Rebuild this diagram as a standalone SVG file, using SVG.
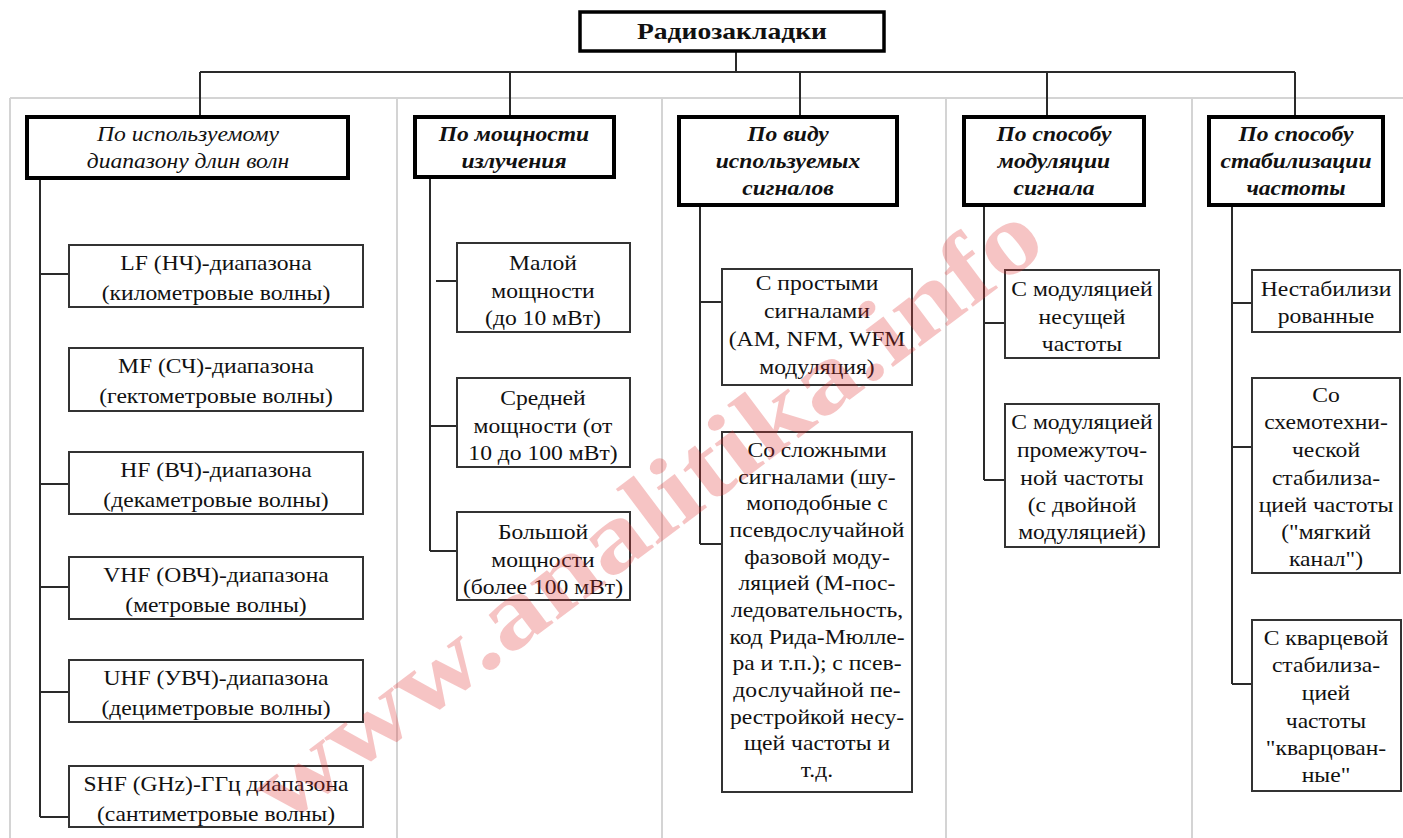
<svg xmlns="http://www.w3.org/2000/svg" width="1403" height="838" viewBox="0 0 1403 838">
<style>
.grid{stroke:#d4d4d4;stroke-width:2;fill:none}
.con{stroke:#2a2a2a;stroke-width:2;fill:none}
.hdr{fill:#fff;stroke:#000;stroke-width:4}
.root{fill:#fff;stroke:#000;stroke-width:3.5}
.box{fill:#fff;stroke:#333;stroke-width:2}
.t{font-size:20px}
.h{font-size:20px;font-style:italic;font-weight:bold}
.hi{font-size:20px;font-style:italic}
.r{font-size:23px;font-weight:bold}
.wm{font-size:100px;font-weight:bold;fill:#e03030;opacity:0.28}
</style>
<rect width="1403" height="838" fill="#fff"/>
<g id="grid">
<path class="grid" d="M10,98 H1403 M10,98 V838 M397,98 V838 M662,98 V838 M946,98 V838 M1192,98 V838"/>
</g>
<g id="connectors">
<path class="con" d="M736,51 V72 M200,72 H1295 M200,72 V117 M510,72 V117 M800,72 V117 M1047,72 V117 M1295,72 V117"/>
<path class="con" d="M40,178 V817 M40,274 H69 M40,484 H69 M40,587 H69 M40,692 H69 M40,817 H69"/>
<path class="con" d="M430,177 V551 M436,281 H457 M430,426 H457 M430,551 H457"/>
<path class="con" d="M700,205 V544 M700,302 H722 M700,544 H722"/>
<path class="con" d="M984,205 V480 M984,323 H1005 M984,480 H1005"/>
<path class="con" d="M1232,205 V684 M1232,303 H1252 M1232,447 H1252 M1232,684 H1252"/>
</g>
<g font-family="'Liberation Serif', 'Times New Roman', Times, 'DejaVu Serif', serif" fill="#111" text-anchor="middle">
<g id="root">
<rect class="root" x="580" y="12" width="304" height="39"/>
<g transform="matrix(1.2 0 0 1 -146.4 0)"><text class="r" x="732" y="39">Радиозакладки</text></g>
</g>
<g id="h1">
<rect class="hdr" x="27" y="117" width="321" height="61"/>
<g transform="matrix(1.18 0 0 1 -33.84 0)">
<text class="hi" x="188" y="141">По используемому</text>
<text class="hi" x="188" y="168">диапазону  длин волн</text>
</g>
</g>
<g id="h2">
<rect class="hdr" x="415" y="117" width="199" height="60"/>
<g transform="matrix(1.18 0 0 1 -92.52 0)">
<text class="h" x="514" y="141">По мощности</text>
<text class="h" x="514" y="168">излучения</text>
</g>
</g>
<g id="h3">
<rect class="hdr" x="679" y="117" width="218" height="88"/>
<g transform="matrix(1.18 0 0 1 -141.84 0)">
<text class="h" x="788" y="141">По виду</text>
<text class="h" x="788" y="168">используемых</text>
<text class="h" x="788" y="195">сигналов</text>
</g>
</g>
<g id="h4">
<rect class="hdr" x="964" y="117" width="180" height="88"/>
<g transform="matrix(1.18 0 0 1 -189.72 0)">
<text class="h" x="1054" y="141">По способу</text>
<text class="h" x="1054" y="168">модуляции</text>
<text class="h" x="1054" y="195">сигнала</text>
</g>
</g>
<g id="h5">
<rect class="hdr" x="1209" y="117" width="174" height="88"/>
<g transform="matrix(1.18 0 0 1 -233.28 0)">
<text class="h" x="1296" y="141">По способу</text>
<text class="h" x="1296" y="168">стабилизации</text>
<text class="h" x="1296" y="195">частоты</text>
</g>
</g>
<g id="lf">
<rect class="box" x="69" y="245" width="294" height="62"/>
<g transform="matrix(1.18 0 0 1 -38.88 0)">
<text class="t" x="216" y="270">LF (НЧ)-диапазона</text>
<text class="t" x="216" y="300">(километровые волны)</text>
</g>
</g>
<g id="mf">
<rect class="box" x="69" y="348" width="294" height="63"/>
<g transform="matrix(1.18 0 0 1 -38.88 0)">
<text class="t" x="216" y="373">MF (СЧ)-диапазона</text>
<text class="t" x="216" y="403">(гектометровые волны)</text>
</g>
</g>
<g id="hf">
<rect class="box" x="69" y="452" width="294" height="62"/>
<g transform="matrix(1.18 0 0 1 -38.88 0)">
<text class="t" x="216" y="477">HF (ВЧ)-диапазона</text>
<text class="t" x="216" y="507">(декаметровые волны)</text>
</g>
</g>
<g id="vhf">
<rect class="box" x="69" y="557" width="294" height="62"/>
<g transform="matrix(1.18 0 0 1 -38.88 0)">
<text class="t" x="216" y="582">VHF (ОВЧ)-диапазона</text>
<text class="t" x="216" y="612">(метровые волны)</text>
</g>
</g>
<g id="uhf">
<rect class="box" x="69" y="660" width="294" height="62"/>
<g transform="matrix(1.18 0 0 1 -38.88 0)">
<text class="t" x="216" y="685">UHF (УВЧ)-диапазона</text>
<text class="t" x="216" y="715">(дециметровые волны)</text>
</g>
</g>
<g id="shf">
<rect class="box" x="69" y="766" width="294" height="61"/>
<g transform="matrix(1.18 0 0 1 -38.88 0)">
<text class="t" x="216" y="791">SHF (GHz)-ГГц диапазона</text>
<text class="t" x="216" y="821">(сантиметровые волны)</text>
</g>
</g>
<g id="p1">
<rect class="box" x="457" y="243" width="173" height="89"/>
<g transform="matrix(1.18 0 0 1 -97.74 0)">
<text class="t" x="543" y="270">Малой</text>
<text class="t" x="543" y="298">мощности</text>
<text class="t" x="543" y="325">(до 10 мВт)</text>
</g>
</g>
<g id="p2">
<rect class="box" x="457" y="378" width="173" height="89"/>
<g transform="matrix(1.18 0 0 1 -97.74 0)">
<text class="t" x="543" y="405">Средней</text>
<text class="t" x="543" y="433">мощности (от</text>
<text class="t" x="543" y="460">10 до 100 мВт)</text>
</g>
</g>
<g id="p3">
<rect class="box" x="457" y="512" width="173" height="88"/>
<g transform="matrix(1.18 0 0 1 -97.74 0)">
<text class="t" x="543" y="539">Большой</text>
<text class="t" x="543" y="567">мощности</text>
<text class="t" x="543" y="594">(более 100 мВт)</text>
</g>
</g>
<g id="s1">
<rect class="box" x="722" y="269" width="190" height="116"/>
<g transform="matrix(1.18 0 0 1 -147.06 0)">
<text class="t" x="817" y="290">С простыми</text>
<text class="t" x="817" y="318">сигналами</text>
<text class="t" x="817" y="346">(AM, NFM, WFM</text>
<text class="t" x="817" y="374">модуляция)</text>
</g>
</g>
<g id="s2">
<rect class="box" x="722" y="432" width="190" height="360"/>
<g transform="matrix(1.18 0 0 1 -147.06 0)">
<text class="t" x="817" y="457">Со сложными</text>
<text class="t" x="817" y="484">сигналами (шу-</text>
<text class="t" x="817" y="510">моподобные с</text>
<text class="t" x="817" y="537">псевдослучайной</text>
<text class="t" x="817" y="564">фазовой моду-</text>
<text class="t" x="817" y="590">ляцией  (М-пос-</text>
<text class="t" x="817" y="617">ледовательность,</text>
<text class="t" x="817" y="644">код Рида-Мюлле-</text>
<text class="t" x="817" y="670">ра и т.п.); с псев-</text>
<text class="t" x="817" y="697">дослучайной пе-</text>
<text class="t" x="817" y="724">рестройкой несу-</text>
<text class="t" x="817" y="750">щей частоты и</text>
<text class="t" x="817" y="777">т.д.</text>
</g>
</g>
<g id="m1">
<rect class="box" x="1005" y="270" width="154" height="88"/>
<g transform="matrix(1.18 0 0 1 -194.76 0)">
<text class="t" x="1082" y="296">С модуляцией</text>
<text class="t" x="1082" y="324">несущей</text>
<text class="t" x="1082" y="351">частоты</text>
</g>
</g>
<g id="m2">
<rect class="box" x="1005" y="404" width="154" height="143"/>
<g transform="matrix(1.18 0 0 1 -194.76 0)">
<text class="t" x="1082" y="429">С модуляцией</text>
<text class="t" x="1082" y="457">промежуточ-</text>
<text class="t" x="1082" y="485">ной частоты</text>
<text class="t" x="1082" y="512">(с двойной</text>
<text class="t" x="1082" y="539">модуляцией)</text>
</g>
</g>
<g id="f1">
<rect class="box" x="1252" y="270" width="148" height="62"/>
<g transform="matrix(1.18 0 0 1 -238.68 0)">
<text class="t" x="1326" y="296">Нестабилизи</text>
<text class="t" x="1326" y="323">рованные</text>
</g>
</g>
<g id="f2">
<rect class="box" x="1252" y="378" width="148" height="195"/>
<g transform="matrix(1.18 0 0 1 -238.68 0)">
<text class="t" x="1326" y="402">Со</text>
<text class="t" x="1326" y="429">схемотехни-</text>
<text class="t" x="1326" y="457">ческой</text>
<text class="t" x="1326" y="485">стабилиза-</text>
<text class="t" x="1326" y="512">цией частоты</text>
<text class="t" x="1326" y="539">("мягкий</text>
<text class="t" x="1326" y="566">канал")</text>
</g>
</g>
<g id="f3">
<rect class="box" x="1252" y="620" width="149" height="171"/>
<g transform="matrix(1.18 0 0 1 -238.68 0)">
<text class="t" x="1326" y="645">С кварцевой</text>
<text class="t" x="1326" y="672">стабилиза-</text>
<text class="t" x="1326" y="700">цией</text>
<text class="t" x="1326" y="728">частоты</text>
<text class="t" x="1326" y="755">"кварцован-</text>
<text class="t" x="1326" y="782">ные"</text>
</g>
</g>
<g id="watermark">
<text class="wm" x="645" y="545" transform="rotate(-37 645 510)" textLength="960" lengthAdjust="spacingAndGlyphs">www.analitika.info</text>
</g>
</g>
</svg>
